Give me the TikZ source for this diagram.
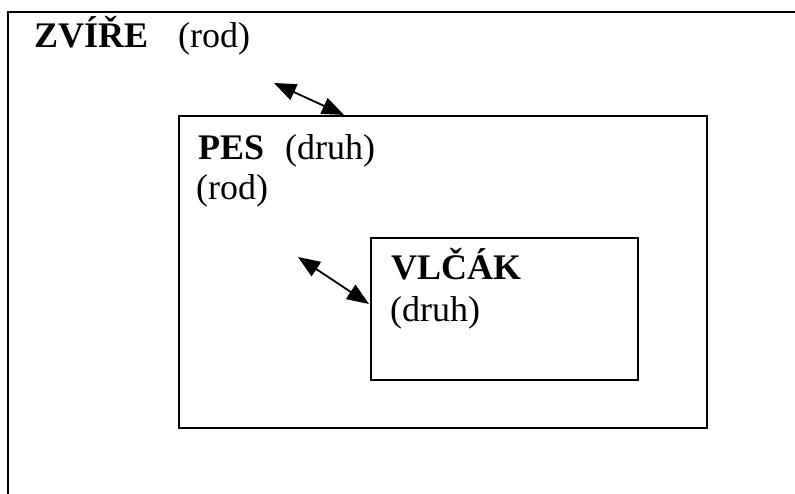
\documentclass[tikz,border=0pt]{standalone}
\usepackage{fontspec}
\setmainfont{Liberation Serif}
\usetikzlibrary{arrows.meta}
\begin{document}
\begin{tikzpicture}[x=1pt,y=1pt,
  frame/.style={draw,line width=2pt,inner sep=0pt},
  lbl/.style={anchor=base west,inner sep=0pt,font=\fontsize{36}{40}\selectfont},
  conn/.style={line width=1.8pt,{Triangle[length=22pt,width=17pt]}-{Triangle[length=22pt,width=17pt]}}]
\useasboundingbox (0,0) rectangle (795,493);
% outer frame (only top and left visible)
\coordinate (obl) at (8,-5);
\coordinate (otl) at (8,481);
\coordinate (otr) at (800,481);
\draw[line width=1.6pt] (obl) -- (otl) -- (otr);
% boxes
\node[frame,minimum width=528pt,minimum height=312pt,anchor=north west] (pes) at (178,378) {};
\node[frame,minimum width=267pt,minimum height=142pt,anchor=north west] (vlcak) at (370,256) {};
% texts
\node[lbl] (t1) at (34,445) {\textbf{ZVÍŘE}};
\node[lbl] (t2) at (178,445) {(rod)};
\node[lbl] (t3) at (198,333) {\textbf{PES}};
\node[lbl] (t4) at (285,333) {(druh)};
\node[lbl] (t5) at (196,293) {(rod)};
\node[lbl] (t6) at (391,213) {\textbf{VLČÁK}};
\node[lbl] (t7) at (390,171) {(druh)};
% connectors
\coordinate (a1) at (274,410);
\coordinate (a2) at (344,378);
\coordinate (b1) at (298,236);
\coordinate (b2) at (369,189);
\draw[conn] (a1) -- (a2);
\draw[conn] (b1) -- (b2);
\end{tikzpicture}
\end{document}
